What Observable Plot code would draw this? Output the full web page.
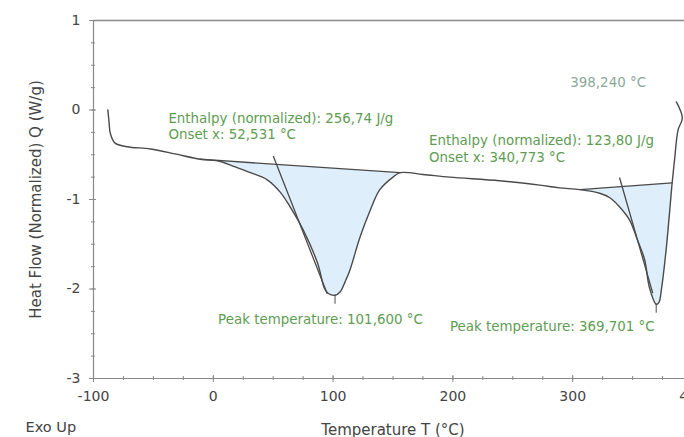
<!DOCTYPE html>
<html>
<head>
<meta charset="utf-8">
<script src="https://cdn.jsdelivr.net/npm/d3@7"></script>
<script src="https://cdn.jsdelivr.net/npm/@observablehq/plot@0.6"></script>
<style>
  html, body { margin: 0; padding: 0; background: #fff; overflow: hidden; }
  #chart { width: 684px; height: 437px; overflow: hidden; }
  #chart svg { max-width: none !important; }
  #chart g[aria-label="x-axis label"], #chart g[aria-label="y-axis label"] { font-size: 15px; }
</style>
</head>
<body>
<div id="chart"></div>
<script>
// DSC heating trace: temperature (°C) and normalized heat flow (W/g)
const temperature = [-88, -87, -86, -82, -72, -52.5, -32, -11, 6, 17, 31, 45, 56, 64, 75, 87, 93, 96, 101.6, 106, 110, 114, 122.5, 131, 139, 150, 156, 175, 197.5, 239, 272.5, 289, 306, 322.5, 331, 339, 347.5, 354, 360, 364, 369.7, 372, 374, 378, 382.5, 383, 385, 388, 391.5, 386.5];
const heatFlow    = [0.0, -0.14, -0.26, -0.37, -0.41, -0.435, -0.49, -0.55, -0.575, -0.63, -0.70, -0.78, -0.92, -1.08, -1.34, -1.71, -2.0, -2.05, -2.07, -2.03, -1.92, -1.79, -1.42, -1.12, -0.89, -0.75, -0.70, -0.72, -0.75, -0.79, -0.84, -0.87, -0.89, -0.93, -0.98, -1.08, -1.23, -1.45, -1.67, -1.98, -2.17, -2.15, -2.01, -1.56, -0.89, -0.815, -0.56, -0.22, -0.09, 0.09];

// Integration ranges (start / end temperature of each peak's baseline)
const peakRanges = [[-11, 156], [306, 383]];
// Peak temperatures and onset tangents
const peakTemps = [101.6, 369.7];
const peakMarkLow = [-2.17, -2.27];
const tangent1 = [[50.2, -0.52], [95, -2.05]];
const tangent2 = [[339.2, -0.76], [366.7, -2.04]];

// Annotation texts and anchor positions (°C, W/g)
const labelTexts = [
  "Enthalpy (normalized): 256,74 J/g",
  "Onset x: 52,531 °C",
  "Enthalpy (normalized): 123,80 J/g",
  "Onset x: 340,773 °C",
  "398,240 °C",
  "Peak temperature: 101,600 °C",
  "Peak temperature: 369,701 °C"
];
const labelX = [-37.5, -37.5, 180, 180, 298, 4, 197.5];
const labelY = [-0.095, -0.28, -0.345, -0.535, 0.30, -2.34, -2.42];
const labelColor = ["#5e9c52", "#5e9c52", "#5e9c52", "#5e9c52", "#8aa89a", "#5e9c52", "#5e9c52"];

// Axis ticks
const xMajor = [-100, 0, 100, 200, 300, 400];
const xMinor = d3.range(-100, 401, 25);
const yMajor = [-3, -2, -1, 0, 1];
const yMinor = d3.range(-3, 1.01, 0.25);

const curve = temperature.map((t, i) => ({t, q: heatFlow[i]}));
const peakSegments = peakRanges.map(([a, b]) => {
  const i0 = temperature.indexOf(a), i1 = temperature.indexOf(b);
  return curve.slice(i0, i1 + 1);
});
const baselines = peakSegments.map(s => [s[0], s[s.length - 1]]);
const labels = labelTexts.map((text, i) => ({text, x: labelX[i], y: labelY[i], color: labelColor[i]}));
const tangents = [tangent1, tangent2].map(seg => seg.map(([t, q]) => ({t, q})));

const axisColor = "#8a8a8a";
const lineColor = "#4a4a4a";
const font = "DejaVu Sans, sans-serif";
const plain = d => String(d);

const chart = Plot.plot({
  width: 700,
  height: 437,
  marginLeft: 93,
  marginRight: 8,
  marginTop: 20,
  marginBottom: 59,
  style: {fontFamily: font, background: "#fff", overflow: "visible"},
  x: {domain: [-100, 400]},
  y: {domain: [-3, 1]},
  marks: [
    // filled peak areas (closed between curve and straight baseline)
    ...peakSegments.map(seg => Plot.line(seg, {x: "t", y: "q", fill: "#deeefa", stroke: "none", curve: "catmull-rom"})),
    // frame lines
    Plot.ruleY([1], {stroke: axisColor, strokeWidth: 1.5}),
    Plot.ruleY([-3], {stroke: axisColor, strokeWidth: 1.2}),
    Plot.ruleX([-100], {stroke: axisColor, strokeWidth: 1.2}),
    // ticks crossing the axis lines
    Plot.axisX({ticks: xMinor, tickSize: 4, dy: -2, text: null, stroke: axisColor}),
    Plot.axisX({ticks: xMajor, tickSize: 7, dy: -3, text: null, stroke: axisColor}),
    Plot.axisX({ticks: xMajor, tickSize: 0, tickPadding: 13, fontSize: 14, fill: "#444", tickFormat: plain,
      label: "Temperature T (°C)", labelAnchor: "center", labelArrow: "none", labelOffset: 56}),
    Plot.axisY({ticks: yMinor, tickSize: 4, dx: 2, text: null, stroke: axisColor}),
    Plot.axisY({ticks: yMajor, tickSize: 7, dx: 3, text: null, stroke: axisColor}),
    Plot.axisY({ticks: yMajor, tickSize: 0, tickPadding: 13, fontSize: 14, fill: "#444", tickFormat: plain,
      label: "Heat Flow (Normalized) Q (W/g)", labelAnchor: "center", labelArrow: "none", labelOffset: 63}),
    // baselines and onset tangents
    ...baselines.map(b => Plot.line(b, {x: "t", y: "q", stroke: lineColor, strokeWidth: 1.3})),
    ...tangents.map(tg => Plot.line(tg, {x: "t", y: "q", stroke: lineColor, strokeWidth: 1.3})),
    Plot.ruleX(peakTemps, {x: d => d, y1: d => heatFlow[temperature.indexOf(d)], y2: (d, i) => peakMarkLow[i], stroke: lineColor, strokeWidth: 1}),
    // measured curve
    Plot.line(curve, {x: "t", y: "q", stroke: lineColor, strokeWidth: 1.4, curve: "catmull-rom"}),
    // annotations
    Plot.text(labels, {x: "x", y: "y", text: "text", fill: "color", textAnchor: "start", fontSize: 13.4, fontFamily: font}),
    Plot.text(["Exo Up"], {frameAnchor: "bottom-left", text: d => d, dx: -68, dy: 53, textAnchor: "start", fontSize: 14.5, fill: "#444"})
  ]
});
document.getElementById("chart").appendChild(chart);
</script>
</body>
</html>
